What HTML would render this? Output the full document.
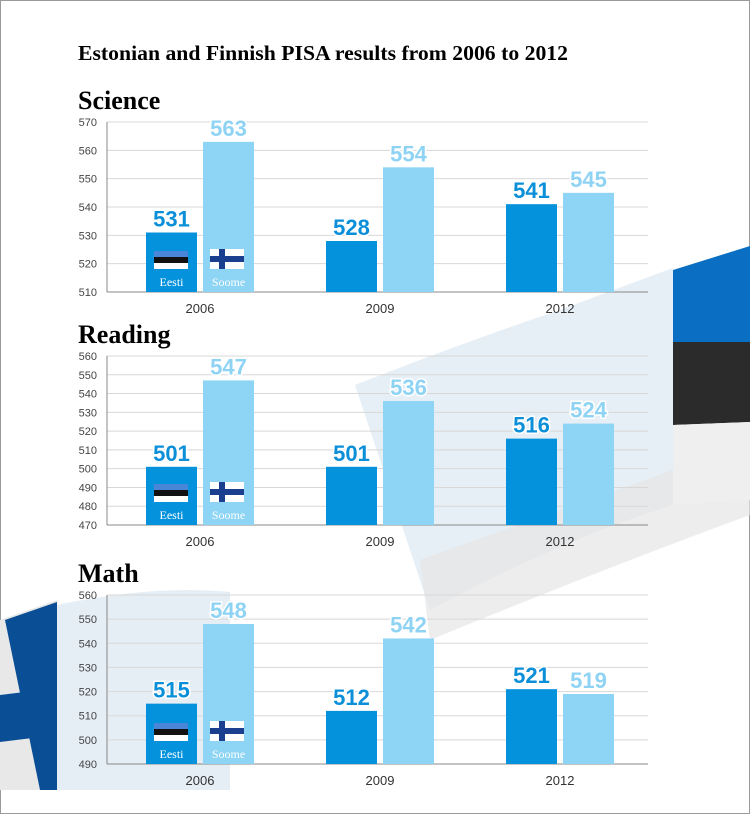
<!DOCTYPE html>
<html><head><meta charset="utf-8">
<style>
html,body{margin:0;padding:0;background:#fff;}
#wrap{position:relative;width:750px;height:814px;overflow:hidden;}
svg text{font-family:"Liberation Sans",sans-serif;}
</style></head>
<body>
<div id="wrap">
<svg id="chart" width="750" height="814" viewBox="0 0 750 814" xmlns="http://www.w3.org/2000/svg">
  <rect x="0.5" y="0.5" width="749" height="813" fill="#fff" stroke="#9a9a9a"/>
  <g id="bg">
    <path d="M355 385 Q470 340 560 310 Q640 280 673 268 L673 505 Q560 540 430 610 Z" fill="#dbe8f2" opacity="0.7"/>
    <path d="M420 560 Q560 510 673 470 L750 470 L750 515 Q600 570 430 640 Z" fill="#e6e6e6" opacity="0.7"/>
    <path d="M673 270 L750 246 L750 342 L673 342 Z" fill="#0a6fc2"/>
    <path d="M673 342 L750 342 L750 422 L673 425 Z" fill="#2b2b2b"/>
    <path d="M673 425 L750 422 L750 500 L673 505 Z" fill="#efefef"/>
    <path d="M57 600 L57 790 L0 790 L0 620 Z" fill="#e8e8e8"/>
    <path d="M5 620 L57 602 L57 790 L40 790 Z" fill="#0a4f96"/>
    <path d="M0 695 L57 688 L57 735 L0 742 Z" fill="#0a4f96"/>
    <path d="M57 605 Q150 585 230 592 L230 790 L57 790 Z" fill="#d5e3ef" opacity="0.6"/>
  </g>
  <text x="78" y="60" font-weight="bold" font-size="21" textLength="490" lengthAdjust="spacingAndGlyphs" style="font-family:'Liberation Serif',serif">Estonian and Finnish PISA results from 2006 to 2012</text>
  <g id="charts"></g>
</svg>
</div>
<script>
const years = ["2006", "2009", "2012"];
const scienceEesti = [531, 528, 541];
const scienceSoome = [563, 554, 545];
const scienceTicks = [510, 520, 530, 540, 550, 560, 570];
const readingEesti = [501, 501, 516];
const readingSoome = [547, 536, 524];
const readingTicks = [470, 480, 490, 500, 510, 520, 530, 540, 550, 560];
const mathEesti = [515, 512, 521];
const mathSoome = [548, 542, 519];
const mathTicks = [490, 500, 510, 520, 530, 540, 550, 560];
const panelTitles = ["Science", "Reading", "Math"];

const NS = "http://www.w3.org/2000/svg";
const root = document.getElementById("charts");
function mk(tag, attrs, parent) {
  const e = document.createElementNS(NS, tag);
  for (const k in attrs) e.setAttribute(k, attrs[k]);
  (parent || root).appendChild(e);
  return e;
}
const EBLUE = "#0592dc", SBLUE = "#8dd4f5";
const X0 = 107, X1 = 648;

function flagEE(g, x, y) {
  const r1 = mk("rect", {x: x, y: y, width: 34, height: 6, fill: "#4a86d8"}, g);
  
  
  const r2 = mk("rect", {x: x, y: y + 6, width: 34, height: 6, fill: "#111"}, g);
  
  
  const r3 = mk("rect", {x: x, y: y + 12, width: 34, height: 6, fill: "#fff"}, g);
  
  
}
function flagFI(g, x, y) {
  const r1 = mk("rect", {x: x, y: y, width: 34, height: 20, fill: "#fff"}, g);
  
  
  const r2 = mk("rect", {x: x + 9, y: y, width: 6, height: 20, fill: "#1a3f8f"}, g);
  
  
  const r3 = mk("rect", {x: x, y: y + 7, width: 34, height: 6, fill: "#1a3f8f"}, g);
  
  
}

function panel(idx, titleY, yTop, yBot, ticks, eesti, soome) {
  const g = mk("g", {});
  
  
  const t = mk("text", {x: 78, y: titleY, "font-weight": "bold", "font-size": 26, style: "font-family:'Liberation Serif',serif"}, g);
  t.textContent = panelTitles[idx];
  
  
  const lo = ticks[0], hi = ticks[ticks.length - 1];
  const y = v => yBot - (v - lo) / (hi - lo) * (yBot - yTop);
  ticks.forEach(v => {
    const gl = mk("line", {x1: X0, x2: X1, y1: y(v), y2: y(v), stroke: v === lo ? "#888" : "#d8d8d8", "stroke-width": 1}, g);
    
    
    const tl = mk("text", {x: 97, y: y(v) + 4, "text-anchor": "end", "font-size": 11, fill: "#444"}, g);
    tl.textContent = v;
    
    
  });
  const ax = mk("line", {x1: X0, x2: X0, y1: yTop, y2: yBot, stroke: "#888"}, g);
  
  
  const centers = years.map((_, i) => 200 + i * 180);
  years.forEach((yr, i) => {
    const c = centers[i];
    const bars = [[eesti[i], c - 54, EBLUE, 'bar-eesti-' + yr], [soome[i], c + 3, SBLUE, 'bar-soome-' + yr]];
    bars.forEach(([v, x, col, nm], k) => {
      const b = mk("rect", {x: x, y: y(v), width: 51, height: yBot - y(v), fill: col}, g);
      
      
      const vl = mk("text", {x: x + 25.5, y: y(v) - 6, "text-anchor": "middle", "font-size": 22, "font-weight": "bold", fill: k === 0 ? "#0a8fd8" : "#8fd3f4", stroke: "#fff", "stroke-width": 3, "paint-order": "stroke"}, g);
      vl.textContent = v;
      
      
    });
    if (i === 0) {
      flagEE(g, c - 46, yBot - 41);
      flagFI(g, c + 10, yBot - 43);
      const l1 = mk("text", {x: c - 28.5, y: yBot - 6, "text-anchor": "middle", "font-size": 12, fill: "#fff", style: "font-family:'Liberation Serif',serif"}, g);
      l1.textContent = "Eesti";
      
      
      const l2 = mk("text", {x: c + 28.5, y: yBot - 6, "text-anchor": "middle", "font-size": 12, fill: "#fff", style: "font-family:'Liberation Serif',serif"}, g);
      l2.textContent = "Soome";
      
      
    }
    const xl = mk("text", {x: c, y: yBot + 21, "text-anchor": "middle", "font-size": 13, fill: "#333"}, g);
    xl.textContent = yr;
    
    
  });
}
panel(0, 109, 122, 292, scienceTicks, scienceEesti, scienceSoome);
panel(1, 343, 356, 525, readingTicks, readingEesti, readingSoome);
panel(2, 582, 595, 764, mathTicks, mathEesti, mathSoome);
</script>
</body></html>
